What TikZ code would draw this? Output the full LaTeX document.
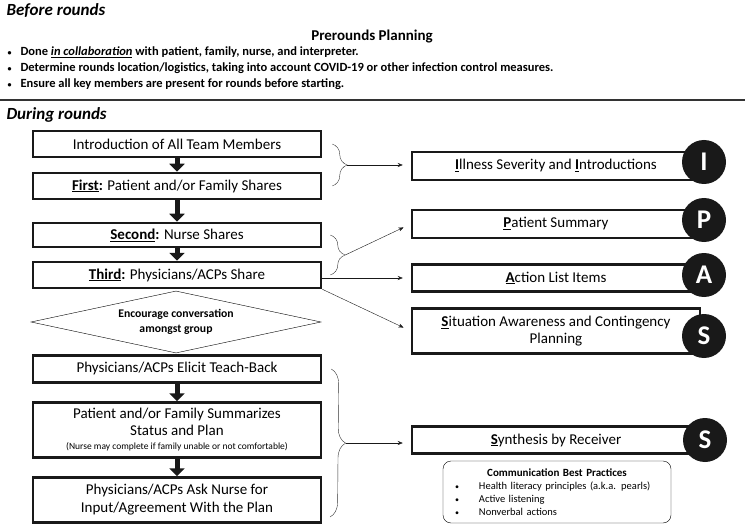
\documentclass[tikz,border=0pt]{standalone}
\usepackage{fontspec}
\setmainfont{Carlito}
\usetikzlibrary{arrows.meta,shapes.geometric,decorations.pathreplacing,calc}
\tikzset{
    flowbox/.style={draw=black!90,line width=2.5pt,minimum width=288pt,inner sep=0pt,
        align=center,font=\fontsize{15}{17}\selectfont},
    letter/.style={circle,fill=black!90,minimum size=44pt,inner sep=0pt,text=white,
        font=\bfseries\fontsize{27}{27}\selectfont},
    blockarrow/.style={line width=5pt,black!90,-{Triangle[width=15pt,length=8pt]}},
    link/.style={thin,black!90,-{Stealth[length=5pt,width=4pt]},shorten >=8pt},
    brace/.style={thin,black!80,decorate,decoration={brace,amplitude=15pt}},
    heading/.style={anchor=west,font=\bfseries\itshape\fontsize{17}{19}\selectfont},
    bulletline/.style={anchor=west,font=\bfseries\fontsize{12.5}{14}\selectfont}
}
\newcommand{\smalldot}{{\fontsize{8}{8}\selectfont\textbullet}}
\begin{document}
\begin{tikzpicture}[x=1pt,y=-1pt]
    \useasboundingbox (0,0) rectangle (745,524);
    %% before rounds
    \node[heading] (before) at (3,11) {Before rounds};
    \node[font=\bfseries\fontsize{15}{17}\selectfont] (plan) at (372,37) {Prerounds Planning};
    \foreach \i/\y/\t in {1/52/{Done \underline{\textit{in collaboration}} with patient, family, nurse, and interpreter.},
                          2/68/{Determine rounds location/logistics, taking into account COVID-19 or other infection control measures.},
                          3/84/{Ensure all key members are present for rounds before starting.}}
        \node[bulletline] (item\i) at (4,\y) {\smalldot\hspace{9pt}\t};
    \draw[line width=1.5pt,black!80] (0,100) -- (745,100);
    %% during rounds
    \node[heading] (during) at (3,115) {During rounds};
    \node[flowbox,minimum height=26pt] (intro) at (177,144) {Introduction of All Team Members};
    \node[flowbox,minimum height=26pt] (first) at (177,186) {\underline{\textbf{First}}\textbf{:} Patient and/or Family Shares};
    \node[flowbox,minimum height=24pt] (second) at (177,235) {\underline{\textbf{Second}}\textbf{:} Nurse Shares};
    \node[flowbox,minimum height=26pt] (third) at (177,275) {\underline{\textbf{Third}}\textbf{:} Physicians/ACPs Share};
    \node[diamond,draw,thin,aspect=4.7,minimum width=290pt,minimum height=62pt,inner sep=0pt,
        align=center,font=\bfseries\fontsize{11.7}{15}\selectfont] (talk) at (176,322)
        {Encourage conversation\\amongst group};
    \node[flowbox,minimum height=27pt] (teach) at (177,369) {Physicians/ACPs Elicit Teach-Back};
    \node[flowbox,minimum height=55pt] (summ) at (177,430)
        {Patient and/or Family Summarizes\\Status and Plan\\[-3pt]
         {\fontsize{9.5}{11}\selectfont (Nurse may complete if family unable or not comfortable)}};
    \node[flowbox,minimum height=45pt,font=\fontsize{15}{18}\selectfont] (ask) at (177,500)
        {Physicians/ACPs Ask Nurse for\\Input/Agreement With the Plan};
    \draw[blockarrow] (intro) -- (first);
    \draw[blockarrow] (first) -- (second);
    \draw[blockarrow] (second) -- (third);
    \draw[blockarrow] (teach) -- (summ);
    \draw[blockarrow] (summ) -- (ask);
    %% I-PASS side
    \node[flowbox,minimum height=28pt] (illness) at (556,166)
        {\underline{\textbf{I}}llness Severity and \underline{\textbf{I}}ntroductions};
    \node[flowbox,minimum height=28pt] (patient) at (556,224) {\underline{\textbf{P}}atient Summary};
    \node[flowbox,minimum height=27pt] (action) at (556,278) {\underline{\textbf{A}}ction List Items};
    \node[flowbox,minimum height=45pt] (situation) at (556,331)
        {\underline{\textbf{S}}ituation Awareness and Contingency\\Planning};
    \node[flowbox,minimum height=27pt] (synthesis) at (556,440) {\underline{\textbf{S}}ynthesis by Receiver};
    \node[letter] (cI) at (704,162) {I};
    \node[letter] (cP) at (704,220) {P};
    \node[letter] (cA) at (704,275) {A};
    \node[letter] (cS) at (704,336) {S};
    \node[letter] (cSS) at (705,440) {S};
    \node[draw,thin,rounded corners=8pt,minimum width=228pt,minimum height=62pt,inner sep=7pt,
        text width=214pt,align=left,font=\fontsize{10.5}{13}\selectfont] (practices) at (557,492)
        {\makebox[214pt]{\fontsize{11}{13}\selectfont\textbf{Communication Best Practices}}\\
         \hspace*{5pt}\smalldot\hspace{20pt}Health literacy principles (a.k.a. pearls)\\
         \hspace*{5pt}\smalldot\hspace{20pt}Active listening\\
         \hspace*{5pt}\smalldot\hspace{20pt}Nonverbal actions};
    %% braces and links
    \coordinate (braceA) at ([xshift=10pt]intro.east);
    \coordinate (braceB) at ([xshift=10pt]first.east);
    \coordinate (braceC) at ([xshift=8pt]second.east);
    \coordinate (braceD) at ([xshift=8pt]third.east);
    \coordinate (braceE) at ([xshift=9pt]teach.east);
    \coordinate (braceF) at (330,517);
    \draw[brace] (braceA) -- (braceB);
    \draw[brace] (braceC) -- (braceD);
    \draw[brace] (braceE) -- (braceF);
    \coordinate (tipA) at ($(braceA)!0.5!(braceB)+(15,0)$);
    \coordinate (tipB) at ($(braceC)!0.5!(braceD)+(15,0)$);
    \coordinate (tipC) at ($(braceE)!0.5!(braceF)+(15,0)$);
    \draw[link] (tipA) -- (tipA -| illness.west);
    \draw[link] (tipB) -- (patient.west);
    \draw[link] (third.east |- action.west) -- (action.west);
    \draw[link] (third.south east) -- (situation.west);
    \draw[link] (tipC) -- (tipC -| synthesis.west);
\end{tikzpicture}
\end{document}
